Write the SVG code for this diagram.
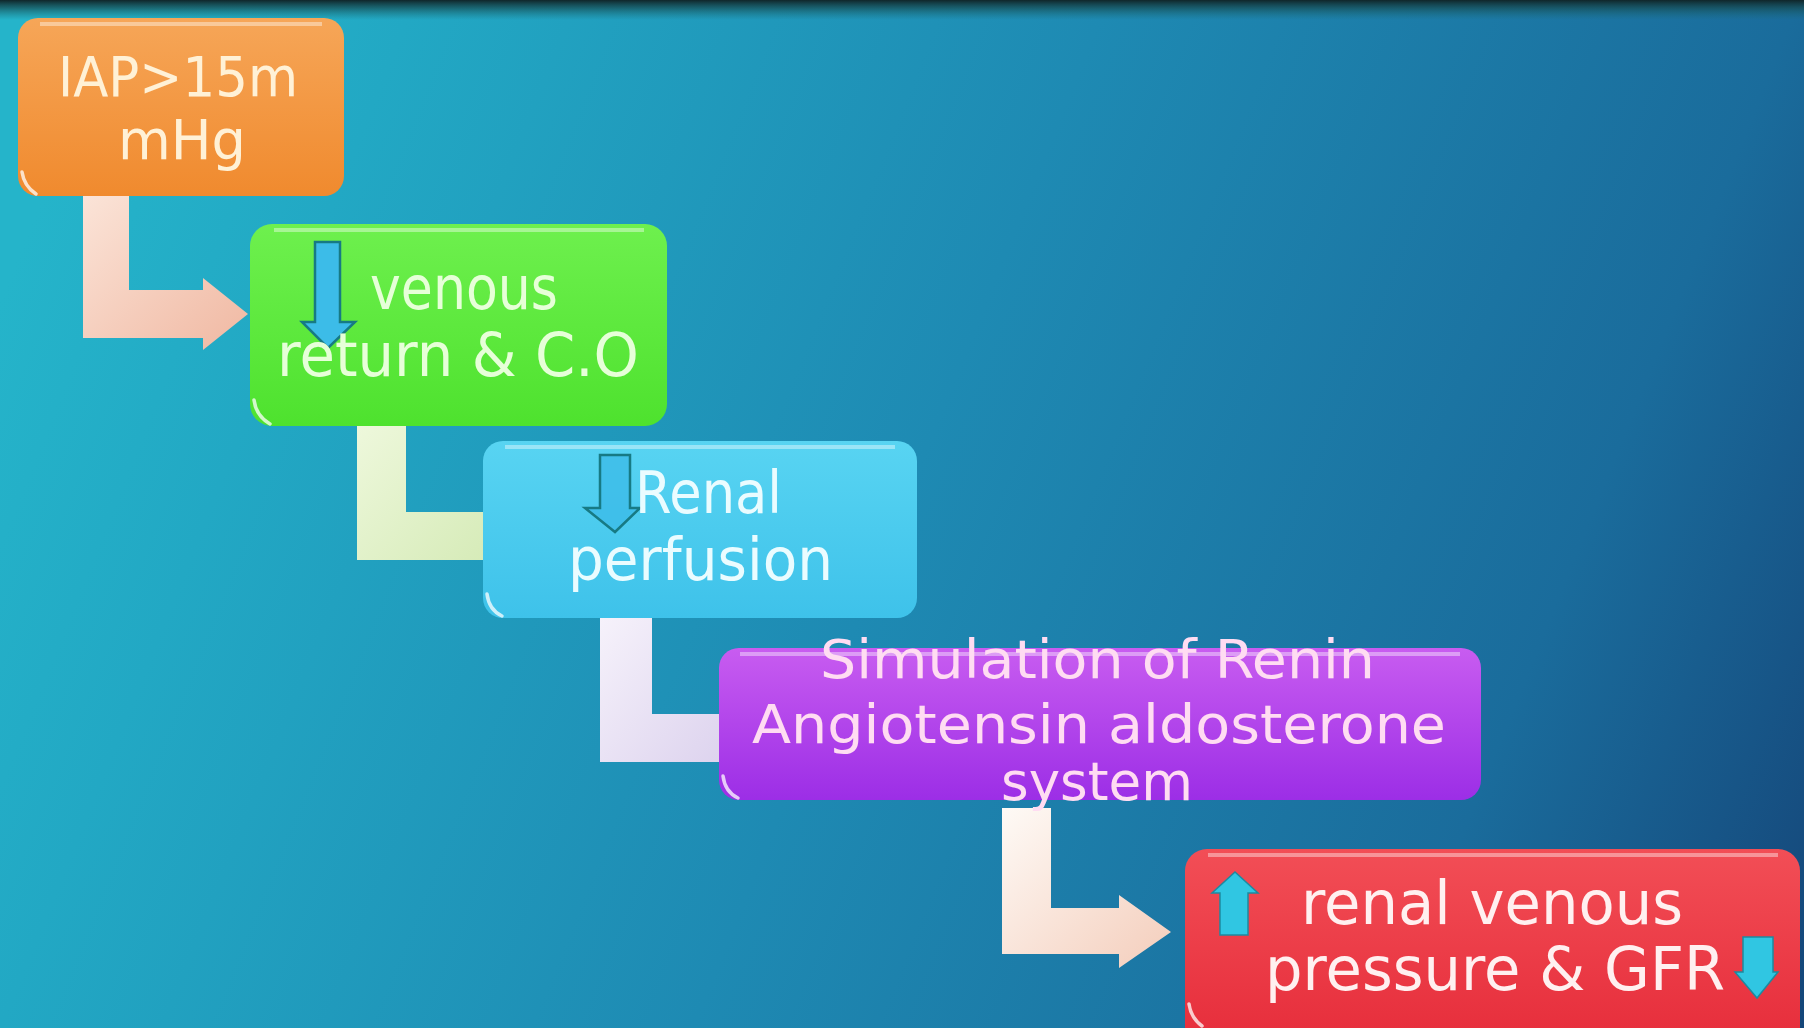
<svg xmlns="http://www.w3.org/2000/svg" width="1804" height="1028" viewBox="0 0 1804 1028">
  <defs>
    <linearGradient id="bg" gradientUnits="userSpaceOnUse" x1="0" y1="300" x2="1804" y2="1028">
      <stop offset="0" stop-color="#25b4ca"/>
      <stop offset="0.14" stop-color="#22a8c4"/>
      <stop offset="0.47" stop-color="#1e8ab3"/>
      <stop offset="0.8" stop-color="#1a6c9c"/>
      <stop offset="1" stop-color="#154679"/>
    </linearGradient>
    <linearGradient id="topband" x1="0" y1="0" x2="0" y2="1">
      <stop offset="0" stop-color="#10262a" stop-opacity="1"/>
      <stop offset="0.4" stop-color="#164a50" stop-opacity="0.7"/>
      <stop offset="1" stop-color="#1a6a70" stop-opacity="0"/>
    </linearGradient>
    <linearGradient id="gOrange" x1="0" y1="0" x2="0" y2="1">
      <stop offset="0" stop-color="#f6a658"/>
      <stop offset="1" stop-color="#f08a2e"/>
    </linearGradient>
    <linearGradient id="gGreen" x1="0" y1="0" x2="0" y2="1">
      <stop offset="0" stop-color="#6ef04e"/>
      <stop offset="1" stop-color="#4ee22e"/>
    </linearGradient>
    <linearGradient id="gBlue" x1="0" y1="0" x2="0" y2="1">
      <stop offset="0" stop-color="#58d4f2"/>
      <stop offset="1" stop-color="#3ec2ea"/>
    </linearGradient>
    <linearGradient id="gPurple" x1="0" y1="0" x2="0" y2="1">
      <stop offset="0" stop-color="#c85cf0"/>
      <stop offset="1" stop-color="#9c2ee6"/>
    </linearGradient>
    <linearGradient id="gRed" x1="0" y1="0" x2="0" y2="1">
      <stop offset="0" stop-color="#f24e56"/>
      <stop offset="1" stop-color="#e62c3a"/>
    </linearGradient>
    <linearGradient id="c1" x1="0" y1="0" x2="1" y2="1">
      <stop offset="0" stop-color="#fbe4d8"/>
      <stop offset="1" stop-color="#f0b8a2"/>
    </linearGradient>
    <linearGradient id="c2" x1="0" y1="0" x2="1" y2="1">
      <stop offset="0" stop-color="#eef8dc"/>
      <stop offset="1" stop-color="#d6ebb8"/>
    </linearGradient>
    <linearGradient id="c3" x1="0" y1="0" x2="1" y2="1">
      <stop offset="0" stop-color="#f6f2fb"/>
      <stop offset="1" stop-color="#ddd3ee"/>
    </linearGradient>
    <linearGradient id="c4" x1="0" y1="0" x2="1" y2="1">
      <stop offset="0" stop-color="#fefaf6"/>
      <stop offset="1" stop-color="#f4cdbb"/>
    </linearGradient>
  </defs>
  <style>
    .lbl { font-family: "DejaVu Sans", "Liberation Sans", sans-serif; font-weight: normal; }
    .box { stroke: none; }
    .hl { fill: none; stroke: #ffffff; stroke-opacity: 0.4; stroke-width: 4; }
    .corner { fill: none; stroke: #ffffff; stroke-opacity: 0.75; stroke-width: 3.5; stroke-linecap: round; }
    .dn { fill: #3cbce8; stroke: #177a84; stroke-width: 2.5; stroke-linejoin: miter; }
    .cy { fill: #30c6e2; stroke: #1c8aa0; stroke-width: 1.5; }
  </style>

  <rect x="0" y="0" width="1804" height="1028" fill="url(#bg)"/>
  <rect x="0" y="0" width="1804" height="20" fill="url(#topband)"/>

  <g id="connectors">
    <path id="conn1" d="M83,194 H129 V290 H203 V278 L248,314 L203,350 V338 H83 Z" fill="url(#c1)"/>
    <path id="conn2" d="M357,424 H406 V512 H486 V560 H357 Z" fill="url(#c2)"/>
    <path id="conn3" d="M600,616 H652 V714 H722 V762 H600 Z" fill="url(#c3)"/>
    <path id="conn4" d="M1002,808 H1051 V908 H1119 V895 L1171,932 L1119,968 V954 H1002 Z" fill="url(#c4)"/>
  </g>

  <g id="node-iap">
    <rect class="box" x="18" y="18" width="326" height="178" rx="20" fill="url(#gOrange)"/>
    <path class="hl" d="M40,24 H322"/>
    <path class="corner" d="M22,172 Q24,186 36,194"/>
    <text class="lbl" x="58" y="96" font-size="56" fill="#fff1d6" textLength="240" lengthAdjust="spacingAndGlyphs">IAP&gt;15m</text>
    <text class="lbl" x="118" y="159" font-size="56" fill="#fff1d6" textLength="128" lengthAdjust="spacingAndGlyphs">mHg</text>
  </g>

  <g id="node-venous">
    <rect class="box" x="250" y="224" width="417" height="202" rx="22" fill="url(#gGreen)"/>
    <path class="hl" d="M274,230 H644"/>
    <path class="corner" d="M254,400 Q256,416 270,424"/>
    <path class="dn" d="M315,242 H340 V322 H355 L328,348 L302,322 H315 Z"/>
    <text class="lbl" x="370" y="309" font-size="60" fill="#e6ffd8" textLength="188" lengthAdjust="spacingAndGlyphs">venous</text>
    <text class="lbl" x="277" y="376" font-size="60" fill="#e6ffd8" textLength="362" lengthAdjust="spacingAndGlyphs">return &amp; C.O</text>
  </g>

  <g id="node-renal">
    <rect class="box" x="483" y="441" width="434" height="177" rx="20" fill="url(#gBlue)"/>
    <path class="hl" d="M505,447 H895"/>
    <path class="corner" d="M487,594 Q489,610 502,616"/>
    <path class="dn" d="M600,455 H630 V508 H640 L615,532 L585,508 H600 Z" fill-opacity="0.8"/>
    <text class="lbl" x="635" y="513" font-size="58" fill="#eafcff" textLength="147" lengthAdjust="spacingAndGlyphs">Renal</text>
    <text class="lbl" x="568" y="580" font-size="58" fill="#eafcff" textLength="265" lengthAdjust="spacingAndGlyphs">perfusion</text>
  </g>

  <g id="node-raas">
    <rect class="box" x="719" y="648" width="762" height="152" rx="20" fill="url(#gPurple)"/>
    <path class="hl" d="M740,654 H1460"/>
    <path class="corner" d="M723,776 Q725,792 738,798"/>
    <text class="lbl" x="820" y="678" font-size="54" fill="#ffdcf2" textLength="555" lengthAdjust="spacingAndGlyphs">Simulation of Renin</text>
    <text class="lbl" x="752" y="743" font-size="54" fill="#ffdcf2" textLength="694" lengthAdjust="spacingAndGlyphs">Angiotensin aldosterone</text>
    <text class="lbl" x="1001" y="800" font-size="54" fill="#ffdcf2" textLength="192" lengthAdjust="spacingAndGlyphs">system</text>
  </g>

  <g id="node-gfr">
    <rect class="box" x="1185" y="849" width="615" height="200" rx="22" fill="url(#gRed)"/>
    <path class="hl" d="M1208,855 H1778"/>
    <path class="corner" d="M1189,1004 Q1191,1018 1202,1026"/>
    <path class="cy" d="M1235,872 L1258,893 H1248 V935 H1220 V893 H1212 Z"/>
    <path class="cy" d="M1743,937 H1773 V972 H1778 L1757,998 L1735,972 H1743 Z"/>
    <text class="lbl" x="1301" y="924" font-size="60" fill="#fff0f0" textLength="382" lengthAdjust="spacingAndGlyphs">renal venous</text>
    <text class="lbl" x="1265" y="990" font-size="60" fill="#fff0f0" textLength="460" lengthAdjust="spacingAndGlyphs">pressure &amp; GFR</text>
  </g>
</svg>
